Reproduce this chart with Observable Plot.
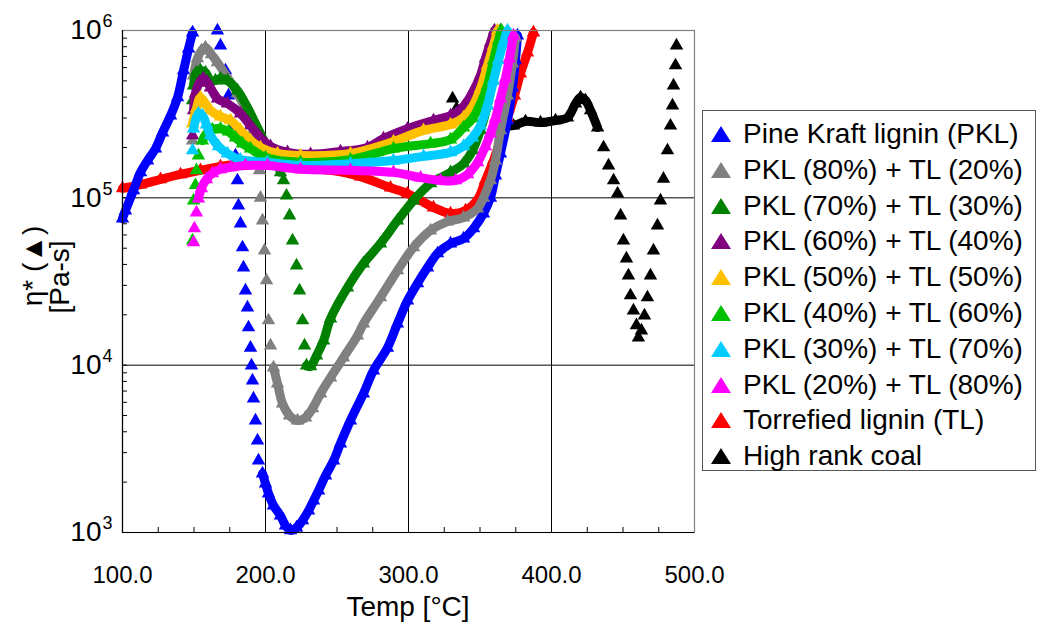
<!DOCTYPE html>
<html><head><meta charset="utf-8">
<script src="https://cdn.jsdelivr.net/npm/d3@7"></script>
<script src="https://cdn.jsdelivr.net/npm/@observablehq/plot@0.6"></script>
<style>
body{margin:0;background:#fff;font-family:"Liberation Sans",Arial,sans-serif;}
#wrap{position:relative;width:1041px;height:631px;overflow:hidden;}
.abs{position:absolute;white-space:nowrap;color:#000;}
#legend{position:absolute;left:702px;top:110px;width:334px;height:361px;border:1px solid #555;box-sizing:border-box;background:#fff;}
.row{position:absolute;left:0;width:330px;height:36px;font-size:28px;white-space:nowrap;}
.row svg{position:absolute;left:7px;top:9px;}
.row span{position:absolute;left:40px;top:0;line-height:36px;white-space:nowrap;}
</style></head><body><div id="wrap"></div>
<script>
const seriesNames = ["Pine Kraft lignin (PKL)", "PKL (80%) + TL (20%)", "PKL (70%) + TL (30%)", "PKL (60%) + TL (40%)", "PKL (50%) + TL (50%)", "PKL (40%) + TL (60%)", "PKL (30%) + TL (70%)", "PKL (20%) + TL (80%)", "Torrefied lignin (TL)", "High rank coal"];
const seriesColors = ["#0000FF", "#808080", "#008000", "#800080", "#FFC000", "#00C000", "#00CCFF", "#FF00FF", "#FF0000", "#000000"];

// [Temp °C, eta* Pa-s]
const pkl = [[100,7.52e4],[102.1,8.40e4],[107.7,1.11e5],[112.6,1.42e5],[117.5,1.67e5],[123.1,1.97e5],[128.0,2.45e5],[133.6,3.10e5],[138.5,3.98e5],[142.7,5.77e5],[146.2,7.80e5],[149.0,9.73e5],
 [166.4,1.00e6],[168.5,8.13e5],[172.0,5.77e5],[174.1,4.08e5],[176.9,2.70e5],[179.0,1.79e5],[180.4,1.27e5],[181.1,9.00e4],[182.5,7.02e4],[183.9,5.05e4],[184.6,3.83e4],[186.0,2.79e4],[187.4,2.21e4],[188.1,1.68e4],[189.5,1.27e4],[190.2,9.95e3],[190.9,8.09e3],[191.6,6.31e3],[193.0,4.67e3],[194.4,3.54e3],[195.1,2.69e3],[197.9,2.25e3],
 [200.0,1.96e3],[202.1,1.71e3],[205.6,1.45e3],[210.5,1.26e3],[214.0,1.10e3],[217.5,1.03e3],[221.7,1.07e3],[225.9,1.18e3],[230.1,1.35e3],[233.6,1.55e3],[237.1,1.78e3],[242.0,2.19e3],[247.6,2.69e3],[252.4,3.40e3],[259.4,4.67e3],[268.5,6.76e3],[275.5,9.29e3],[285.3,1.27e4],[292.3,1.77e4],[299.3,2.43e4],[306.3,3.08e4],[313.3,3.83e4],[320.3,4.65e4],[329.4,5.33e4],[338.5,5.71e4],[345.5,6.56e4],[352.4,8.06e4],[357.3,1.00e5],[360.8,1.36e5],[364.3,1.84e5],[369.2,2.90e5],[372.7,4.56e5],[374.8,6.62e5],[376.2,9.33e5]];
const pkl80 = [[149.0,2.20e5],[149.7,5.38e5],[152.4,6.81e5],[155.2,7.59e5],[158.0,7.91e5],[162.2,7.19e5],[166.4,6.44e5],[173.4,5.24e5],[180.4,4.20e5],[187.4,3.19e5],[191.6,2.53e5],[194.4,2.00e5],[195.8,1.46e5],[196.5,1.00e5],[197.9,7.31e4],[199.3,4.84e4],[200.7,3.21e4],[202.1,1.85e4],[203.5,1.31e4],[205.6,9.68e3],[208.4,7.77e3],[211.9,5.90e3],[216.8,5.00e3],[222.4,4.67e3],[228.0,4.86e3],[232.9,5.51e3],[238.5,6.76e3],[245.5,8.44e3],[254.5,1.11e4],[264.3,1.50e4],[268.5,1.77e4],[280.4,2.54e4],[292.3,3.68e4],[303.5,5.05e4],[315.4,6.38e4],[327.3,7.21e4],[338.5,7.62e4],[348.3,8.63e4],[352.4,1.00e5],[357.3,1.27e5],[360.8,1.67e5],[364.3,2.53e5],[369.2,4.08e5],[372.7,6.35e5],[374.8,9.08e5]];
const pkl70 = [[149.0,3.82e5],[149.7,4.69e5],[151.7,5.61e5],[154.5,5.77e5],[158.0,5.61e5],[161.5,5.02e5],[165.0,5.02e5],[168.5,5.16e5],[173.4,5.02e5],[180.4,4.38e5],[187.4,3.47e5],[194.4,2.63e5],[201.4,2.00e5],[207.0,1.67e5],[210.5,1.42e5],[212.6,1.27e5],[214.7,1.03e5],[216.8,7.84e4],[218.9,5.56e4],[221.7,3.94e4],[223.8,2.79e4],[225.9,1.85e4],[227.3,1.31e4],[228.7,9.95e3],[231.5,9.82e3],[235.7,1.14e4],[240.6,1.40e4],[245.5,1.90e4],[257.3,2.91e4],[268.5,4.05e4],[280.4,5.33e4],[292.3,7.31e4],[303.5,9.64e4],[315.4,1.22e5],[329.4,1.42e5],[338.5,1.60e5],[344.8,1.92e5],[350.3,2.53e5],[355.2,3.56e5],[358.7,5.02e5],[361.5,7.10e5],[364.3,1.00e6]];
const pkl60 = [[149.0,2.36e5],[149.7,3.33e5],[151.0,4.20e5],[153.8,4.89e5],[156.6,5.16e5],[159.4,4.89e5],[161.5,4.56e5],[166.4,3.92e5],[173.4,3.66e5],[182.5,3.19e5],[189.5,2.70e5],[196.5,2.29e5],[203.5,2.03e5],[215.4,1.87e5],[231.5,1.82e5],[252.4,1.89e5],[271.3,2.00e5],[282.5,2.26e5],[299.3,2.59e5],[317.5,2.90e5],[329.4,3.10e5],[338.5,3.52e5],[344.8,4.26e5],[350.3,5.38e5],[353.8,6.81e5],[357.3,8.47e5],[360.1,1.00e6]];
const pkl50 = [[149.0,2.78e5],[151.7,3.42e5],[154.5,3.98e5],[158.0,3.66e5],[161.5,3.33e5],[168.5,3.06e5],[175.5,2.90e5],[182.5,2.53e5],[189.5,2.20e5],[196.5,2.00e5],[208.4,1.84e5],[224.5,1.79e5],[259.4,1.84e5],[289.5,2.17e5],[310.5,2.53e5],[329.4,2.74e5],[338.5,3.02e5],[344.8,3.52e5],[350.3,4.50e5],[355.2,6.18e5],[359.4,8.13e5],[362.2,1.00e6]];
const pkl40 = [[149.0,5.56e4],[149.7,9.64e4],[151.0,1.19e5],[151.7,1.46e5],[153.1,1.79e5],[155.9,2.20e5],[158.7,2.42e5],[162.9,2.56e5],[168.5,2.59e5],[174.1,2.49e5],[179.0,2.29e5],[183.9,2.11e5],[189.5,1.97e5],[200.0,1.74e5],[224.5,1.63e5],[259.4,1.69e5],[289.5,1.97e5],[315.4,2.11e5],[329.4,2.23e5],[338.5,2.63e5],[344.8,2.98e5],[350.3,3.66e5],[355.2,4.69e5],[359.4,6.62e5],[362.9,8.71e5],[365.0,1.00e6]];
const pkl30 = [[149.0,1.92e5],[149.7,2.59e5],[153.1,3.19e5],[155.9,3.10e5],[158.7,2.74e5],[161.5,2.36e5],[167.1,2.03e5],[173.4,1.84e5],[182.5,1.69e5],[201.4,1.63e5],[224.5,1.56e5],[259.4,1.60e5],[289.5,1.67e5],[310.5,1.77e5],[329.4,1.87e5],[338.5,2.03e5],[344.8,2.29e5],[350.3,2.70e5],[355.2,3.56e5],[359.4,5.02e5],[362.9,6.62e5],[366.4,8.47e5],[369.2,1.00e6]];
const pkl20 = [[149.7,5.41e4],[150.3,6.56e4],[151.7,8.17e4],[153.1,9.91e4],[155.2,1.14e5],[158.7,1.29e5],[162.9,1.40e5],[168.5,1.48e5],[175.5,1.52e5],[186.0,1.56e5],[201.4,1.56e5],[224.5,1.48e5],[259.4,1.46e5],[289.5,1.42e5],[308.4,1.32e5],[322.4,1.27e5],[332.9,1.27e5],[341.3,1.38e5],[348.3,1.63e5],[353.8,2.03e5],[357.3,2.42e5],[360.8,2.98e5],[364.3,3.92e5],[367.8,5.16e5],[370.6,6.81e5],[373.4,9.33e5]];
const tl = [[100,1.14e5],[112.6,1.20e5],[126.6,1.29e5],[140.6,1.38e5],[154.5,1.46e5],[168.5,1.54e5],[182.5,1.60e5],[201.4,1.60e5],[224.5,1.52e5],[245.5,1.46e5],[266.4,1.34e5],[287.4,1.15e5],[299.3,1.06e5],[308.4,9.64e4],[317.5,8.75e4],[329.4,8.06e4],[339.9,8.40e4],[348.3,9.78e4],[353.8,1.27e5],[359.4,1.67e5],[364.3,2.20e5],[369.2,2.98e5],[374.1,4.08e5],[378.3,5.53e5],[383.2,7.38e5],[387.4,9.73e5]];
const coal = [[330.8,3.92e5],[333.6,3.42e5],[367.8,2.70e5],[373.4,2.70e5],[381.8,2.86e5],[392.3,2.82e5],[402.8,2.90e5],[411.2,3.02e5],[416.8,3.66e5],[420.3,3.98e5],[423.8,3.82e5],[427.3,3.33e5],[432.2,2.63e5],[436.4,2.00e5],[439.9,1.56e5],[443.4,1.27e5],[446.2,1.06e5],[448.3,7.84e4],[450.3,5.56e4],[452.4,4.34e4],[453.8,3.43e4],[455.2,2.61e4],[457.3,2.12e4],[459.4,1.73e4],[460.8,1.46e4],[462.9,1.61e4],[465.0,1.98e4],[467.1,2.54e4],[469.2,3.43e4],[471.3,4.84e4],[474.1,6.82e4],[476.2,9.64e4],[478.3,1.30e5],[481.1,1.92e5],[483.2,2.70e5],[484.6,3.56e5],[485.3,4.69e5],[486.7,6.18e5],[487.4,8.13e5]];

const xTickValues = [100, 200, 300, 400, 500];
const yTickValues = [1e3, 1e4, 1e5, 1e6];
const xGrid = [200, 300, 400];
const yGrid = [1e4, 1e5];

const seriesData = [pkl, pkl80, pkl70, pkl60, pkl50, pkl40, pkl30, pkl20, tl, coal];
// temperature spans in which the markers are dense enough to form a continuous band
const denseSpans = [[[100,150],[197,377]], [[149.5,195],[205,376]], [[149.5,211],[228,366]], [[149.5,361]], [[148,363]], [[155,366]], [[149.5,370]], [[153,374]], [[99,388]], [[366,433]]];
const drawOrder = [9, 8, 0, 1, 2, 3, 4, 5, 6, 7];

const W = 1041, H = 631, mL = 122, mR = 1041 - 694, mT = 30, mB = 631 - 532;
const innerW = W - mL - mR, innerH = H - mT - mB;

const marks = [];
marks.push(Plot.ruleX(xGrid, {stroke: "#000", strokeWidth: 1}));
marks.push(Plot.ruleY(yGrid, {stroke: "#000", strokeWidth: 1}));
const xMinor = d3.range(100, 501, 25);
const yMinor = [];
for (let k = 3; k < 6; k++) for (let m = 1; m <= 9; m++) yMinor.push(m * 10 ** k);
marks.push(Plot.tickX(xMinor, {x: d => d, stroke: "#000", insetTop: innerH - 5}));
marks.push(Plot.tickY(yMinor, {y: d => d, stroke: "#000", insetRight: innerW - 5}));

for (const i of drawOrder) {
  const rows = seriesData[i].map(([T, v]) => ({T, v}));
  const bandRows = [];
  denseSpans[i].forEach((s, j) => rows.forEach(r => { if (r.T >= s[0] && r.T <= s[1]) bandRows.push({...r, seg: j}); }));
  marks.push(Plot.line(bandRows, {x: "T", y: "v", z: "seg", stroke: seriesColors[i], strokeWidth: 9, curve: "catmull-rom", strokeLinecap: "round", strokeLinejoin: "round"}));
  marks.push(Plot.dot(rows, {x: "T", y: "v", symbol: "triangle", r: 5, fill: seriesColors[i], stroke: "none"}));
}

marks.push(Plot.frame({stroke: "#808080", strokeWidth: 1.2}));
marks.push(Plot.ruleX([100], {stroke: "#000", strokeWidth: 1.2}));
marks.push(Plot.ruleY([1e3], {stroke: "#000", strokeWidth: 1.2}));

marks.push(Plot.text(xTickValues, {x: d => d, frameAnchor: "bottom", dy: 43, text: d => d3.format(".1f")(d), fontSize: 24, lineAnchor: "middle", fill: "#000"}));
marks.push(Plot.text(yTickValues, {y: d => d, frameAnchor: "left", dx: -21, textAnchor: "end", text: () => "10", fontSize: 28, lineAnchor: "middle", fill: "#000"}));
marks.push(Plot.text(yTickValues, {y: d => d, frameAnchor: "left", dx: -20, dy: -9, textAnchor: "start", text: d => String(Math.round(Math.log10(d))), fontSize: 18, lineAnchor: "middle", fill: "#000"}));

const chart = Plot.plot({
  width: W, height: H,
  marginLeft: mL, marginRight: mR, marginTop: mT, marginBottom: mB,
  style: {fontFamily: "'Liberation Sans', Arial, sans-serif", background: "#fff", overflow: "visible"},
  x: {domain: [100, 500], axis: null},
  y: {type: "log", domain: [1e3, 1e6], axis: null},
  marks
});
const wrap = document.getElementById("wrap");
chart.style.position = "absolute";
chart.style.left = "0px"; chart.style.top = "0px";
wrap.appendChild(chart);

const xt = document.createElement("div");
xt.className = "abs"; xt.textContent = "Temp [°C]";
xt.style.cssText += "left:308px;width:200px;text-align:center;top:590px;font-size:28px;line-height:34px;";
wrap.appendChild(xt);
const yt1 = document.createElement("div");
yt1.className = "abs"; yt1.textContent = "η* (▲)";
yt1.style.cssText += "left:33px;top:266px;font-size:28px;transform:translate(-50%,-50%) rotate(-90deg);";
wrap.appendChild(yt1);
const yt2 = document.createElement("div");
yt2.className = "abs"; yt2.textContent = "[Pa-s]";
yt2.style.cssText += "left:60px;top:277px;font-size:28px;transform:translate(-50%,-50%) rotate(-90deg);";
wrap.appendChild(yt2);

const lg = document.createElement("div");
lg.id = "legend";
seriesNames.forEach((n, i) => {
  const row = document.createElement("div");
  row.className = "row";
  row.style.top = (5 + 35.8 * i) + "px";
  row.innerHTML = `<svg width="22" height="18" viewBox="0 0 22 18"><polygon points="11,1 21,17 1,17" fill="${seriesColors[i]}"/></svg><span>${n}</span>`;
  lg.appendChild(row);
});
wrap.appendChild(lg);
</script>
</body></html>
